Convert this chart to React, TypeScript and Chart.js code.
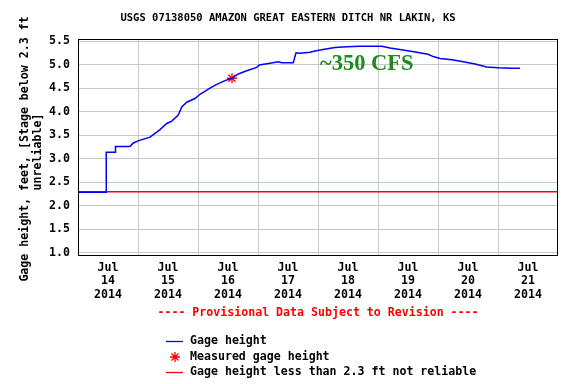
import React, { useEffect, useRef } from 'react';
import { Chart, registerables } from 'chart.js';

Chart.register(...registerables);

const TITLE = 'USGS 07138050 AMAZON GREAT EASTERN DITCH NR LAKIN, KS';
const Y_TITLE_LINES = ['Gage height, feet, [Stage below 2.3 ft', 'unreliable]'];
const PROVISIONAL = '---- Provisional Data Subject to Revision ----';
const ANNOTATION = '~350 CFS';
const ANNOTATION_HOUR = 96.8;
const ANNOTATION_VALUE = 4.88;

const monthLabel = 'Jul';
const yearLabel = '2014';
const dayNumbers = ['14', '15', '16', '17', '18', '19', '20', '21'];

const yTickValues = [1.0, 1.5, 2.0, 2.5, 3.0, 3.5, 4.0, 4.5, 5.0, 5.5];

// hours since Jul 14 2014 00:00
const gageHours = [
  0, 11.2, 11.3, 14.8, 15.0, 20.8, 22.0, 24.0, 28.8, 30.8, 32.8, 35.5, 37.5, 40.1, 41.5, 43.5,
  46.8, 48.8, 52.8, 55.5, 58.8, 61.6, 64.1, 67.5, 71.5, 72.5, 76.8, 80.1, 81.5, 86.1, 87.2,
  88.8, 92.8, 94.8, 98.0, 102.8, 107.5, 112.8, 121.5, 124.8, 130.0, 135.5, 140.0, 142.1,
  144.8, 149.5, 154.1, 158.8, 163.5, 168.1, 173.5, 176.8,
];
const gageValues = [
  2.29, 2.29, 3.14, 3.14, 3.26, 3.26, 3.33, 3.38, 3.46, 3.54, 3.62, 3.75, 3.8, 3.93, 4.1, 4.2,
  4.28, 4.37, 4.5, 4.58, 4.66, 4.71, 4.8, 4.87, 4.94, 4.99, 5.03, 5.06, 5.04, 5.04, 5.25,
  5.24, 5.26, 5.29, 5.32, 5.36, 5.38, 5.39, 5.39, 5.35, 5.31, 5.26, 5.22, 5.17,
  5.13, 5.1, 5.06, 5.01, 4.95, 4.93, 4.92, 4.92,
];

const measuredHours = [61.6];
const measuredValues = [4.71];

const thresholdHours = [0, 192];
const thresholdValues = [2.3, 2.3];

const legendLabels = [
  'Gage height',
  'Measured gage height',
  'Gage height less than 2.3 ft not reliable',
];

const MONO = '"DejaVu Sans Mono", monospace';
const BLUE = '#0000ff';
const RED = '#ff0000';
const GREEN = '#1e8b1e';

const extrasPlugin = {
  id: 'extras',
  afterDraw(chart: any) {
    const ctx = chart.ctx as CanvasRenderingContext2D;
    const area = chart.chartArea;
    const xs = chart.scales.x;
    const ys = chart.scales.y;
    ctx.save();
    // frame
    ctx.strokeStyle = '#000';
    ctx.lineWidth = 1;
    ctx.strokeRect(Math.round(area.left) + 0.5, Math.round(area.top) + 0.5,
      Math.round(area.right - area.left) - 1, Math.round(area.bottom - area.top));

    // title
    ctx.fillStyle = '#000';
    ctx.font = `bold 10.5px ${MONO}`;
    ctx.textAlign = 'center';
    ctx.textBaseline = 'middle';
    ctx.fillText(TITLE, 288, 18);

    // y title
    ctx.font = `bold 11.6px ${MONO}`;
    const ySpots = [[25, 149], [38, 152]];
    Y_TITLE_LINES.forEach((line, i) => {
      ctx.save();
      ctx.translate(ySpots[i][0], ySpots[i][1]);
      ctx.rotate(-Math.PI / 2);
      ctx.fillText(line, 0, 0);
      ctx.restore();
    });

    // provisional
    ctx.fillStyle = RED;
    ctx.fillText(PROVISIONAL, (area.left + area.right) / 2, 313);

    // annotation
    ctx.fillStyle = GREEN;
    ctx.font = 'bold 22.5px "Liberation Serif", serif';
    ctx.textAlign = 'left';
    ctx.textBaseline = 'alphabetic';
    ctx.fillText(ANNOTATION, xs.getPixelForValue(ANNOTATION_HOUR), ys.getPixelForValue(ANNOTATION_VALUE));

    // legend
    const rows = [341, 357, 372];
    ctx.font = `bold 11.6px ${MONO}`;
    ctx.textBaseline = 'middle';
    ctx.fillStyle = '#000';
    rows.forEach((y, i) => {
      ctx.fillText(legendLabels[i], 190, y);
    });
    ctx.lineWidth = 1.3;
    ctx.strokeStyle = BLUE;
    ctx.beginPath();
    ctx.moveTo(166, rows[0] + 0.5);
    ctx.lineTo(183, rows[0] + 0.5);
    ctx.stroke();
    ctx.strokeStyle = RED;
    ctx.beginPath();
    ctx.moveTo(166, rows[2] + 0.5);
    ctx.lineTo(183, rows[2] + 0.5);
    ctx.stroke();
    const cx = 175, cy = rows[1], r = 5;
    ctx.beginPath();
    for (let k = 0; k < 4; k++) {
      const a = (k * Math.PI) / 4;
      ctx.moveTo(cx - r * Math.cos(a), cy - r * Math.sin(a));
      ctx.lineTo(cx + r * Math.cos(a), cy + r * Math.sin(a));
    }
    ctx.stroke();
    ctx.restore();
  },
};

export default function App() {
  const ref = useRef<HTMLCanvasElement | null>(null);
  useEffect(() => {
    document.body.style.margin = '0';
    if (!ref.current) return;
    const chart = new Chart(ref.current, {
      type: 'line',
      data: {
        datasets: [
          {
            label: legendLabels[0],
            data: gageHours.map((h, i) => ({ x: h, y: gageValues[i] })),
            borderColor: BLUE,
            borderWidth: 1.5,
            pointRadius: 0,
            tension: 0,
            fill: false,
          },
          {
            label: legendLabels[2],
            data: thresholdHours.map((h, i) => ({ x: h, y: thresholdValues[i] })),
            borderColor: RED,
            borderWidth: 1.5,
            pointRadius: 0,
            fill: false,
          },
          {
            label: legendLabels[1],
            data: measuredHours.map((h, i) => ({ x: h, y: measuredValues[i] })),
            showLine: false,
            pointStyle: 'star',
            pointRadius: 5,
            borderColor: RED,
            backgroundColor: RED,
            pointBorderWidth: 1.3,
          } as any,
        ],
      },
      options: {
        responsive: false,
        animation: false,
        layout: { padding: { left: 0, right: 18, top: 39, bottom: 69 } },
        plugins: { legend: { display: false }, title: { display: false }, tooltip: { enabled: false } },
        scales: {
          x: {
            type: 'linear',
            min: 0,
            max: 192,
            afterFit: (s: any) => { s.height = 60; },
            border: { display: false },
            grid: {
              drawTicks: false,
              color: (c: any) => {
                const v = c.tick ? c.tick.value : 0;
                return v % 24 === 0 && v > 0 && v < 192 ? '#c8c8c8' : 'rgba(0,0,0,0)';
              },
              lineWidth: 1,
            },
            ticks: {
              stepSize: 12,
              autoSkip: false,
              maxRotation: 0,
              padding: 6,
              color: '#000',
              font: { family: MONO, size: 11.6, weight: 'bold', lineHeight: 1.17 },
              callback: (v: any) => {
                const n = Number(v);
                if (n % 24 !== 12) return '';
                return [monthLabel, dayNumbers[Math.floor(n / 24)], yearLabel];
              },
            },
          },
          y: {
            type: 'linear',
            min: 0.957,
            max: 5.543,
            afterFit: (s: any) => { s.width = 78; },
            afterBuildTicks: (s: any) => { s.ticks = yTickValues.map((v) => ({ value: v })); },
            border: { display: false },
            grid: { drawTicks: false, color: '#c8c8c8', lineWidth: 1 },
            ticks: {
              padding: 8,
              color: '#000',
              font: { family: MONO, size: 11.6, weight: 'bold' },
              callback: (v: any) => Number(v).toFixed(1),
            },
          },
        },
      },
      plugins: [extrasPlugin],
    });
    return () => chart.destroy();
  }, []);
  return <canvas ref={ref} width={576} height={384} style={{ display: 'block' }} />;
}
